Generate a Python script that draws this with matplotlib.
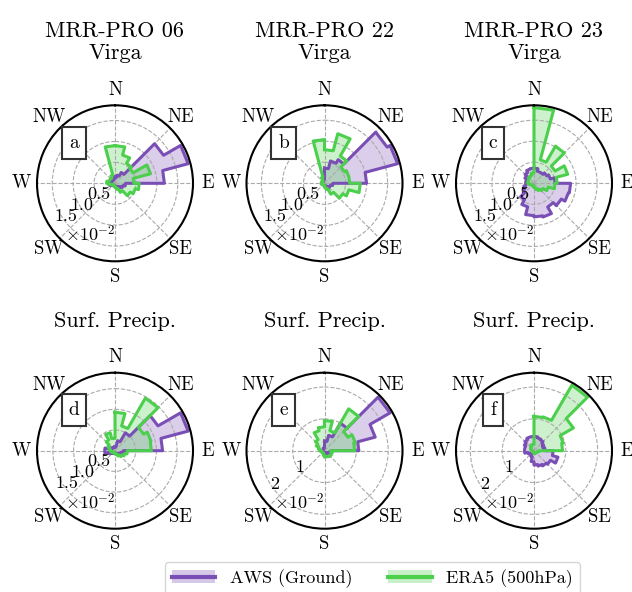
import numpy as np
import matplotlib
matplotlib.use("Agg")
import matplotlib.pyplot as plt
from matplotlib.patches import Patch
from matplotlib.lines import Line2D
from matplotlib.legend_handler import HandlerTuple

plt.rcParams['font.family'] = 'serif'
plt.rcParams['font.serif'] = ['cmr10', 'DejaVu Serif']
plt.rcParams['mathtext.fontset'] = 'cm'
plt.rcParams['axes.formatter.use_mathtext'] = True
plt.rcParams['axes.unicode_minus'] = False

# direction bins: 15 deg wide, starting at North, clockwise; values in units of 1e-2
bin_edges_deg = np.arange(0, 361, 15)

aws_a = [0.15, 0.20, 0.30, 1.34, 1.81, 1.18, 0.25, 0.20, 0.15, 0.10, 0.10, 0.08,
         0.06, 0.05, 0.05, 0.08, 0.12, 0.15, 0.15, 0.10, 0.08, 0.08, 0.10, 0.12]
era_a = [0.90, 0.70, 0.55, 0.50, 0.88, 0.45, 0.58, 0.50, 0.42, 0.25, 0.15, 0.10,
         0.08, 0.05, 0.05, 0.05, 0.08, 0.15, 0.20, 0.15, 0.15, 0.15, 0.20, 0.90]

aws_b = [0.36, 0.55, 0.65, 1.72, 1.80, 1.00, 0.20, 0.15, 0.15, 0.10, 0.08, 0.05,
         0.05, 0.05, 0.05, 0.05, 0.05, 0.05, 0.05, 0.05, 0.05, 0.05, 0.08, 0.10]
era_b = [0.80, 1.22, 0.75, 0.55, 0.60, 0.60, 0.85, 0.60, 0.50, 0.30, 0.15, 0.10,
         0.05, 0.05, 0.05, 0.05, 0.05, 0.08, 0.08, 0.05, 0.05, 0.08, 0.15, 1.04]

aws_c = [0.36, 0.30, 0.30, 0.35, 0.40, 0.50, 0.87, 0.85, 0.75, 0.65, 0.83, 0.80,
         0.77, 0.58, 0.45, 0.30, 0.25, 0.20, 0.20, 0.20, 0.25, 0.30, 0.35, 0.36]
era_c = [1.80, 0.58, 1.02, 0.58, 0.83, 0.55, 0.50, 0.35, 0.25, 0.20, 0.15, 0.10,
         0.08, 0.06, 0.05, 0.05, 0.08, 0.12, 0.15, 0.15, 0.15, 0.18, 0.20, 0.25]

aws_d = [0.10, 0.25, 0.50, 1.20, 1.83, 1.15, 0.20, 0.15, 0.12, 0.10, 0.08, 0.06,
         0.05, 0.05, 0.08, 0.10, 0.15, 0.25, 0.25, 0.15, 0.10, 0.08, 0.08, 0.08]
era_d = [0.93, 0.62, 1.47, 0.80, 0.90, 0.88, 0.30, 0.25, 0.20, 0.15, 0.10, 0.08,
         0.05, 0.05, 0.05, 0.05, 0.08, 0.10, 0.12, 0.15, 0.20, 0.30, 0.45, 0.30]

aws_e = [0.30, 0.50, 1.00, 2.38, 1.65, 1.08, 0.20, 0.15, 0.12, 0.10, 0.08, 0.06,
         0.05, 0.05, 0.05, 0.05, 0.05, 0.05, 0.05, 0.05, 0.05, 0.05, 0.08, 0.10]
era_e = [0.95, 0.65, 1.52, 0.85, 1.00, 0.95, 0.20, 0.25, 0.25, 0.22, 0.20, 0.20,
         0.15, 0.10, 0.08, 0.08, 0.10, 0.12, 0.15, 0.20, 0.30, 0.40, 0.65, 0.75]

aws_f = [0.45, 0.42, 0.40, 0.35, 0.30, 0.35, 0.60, 0.78, 0.60, 0.55, 0.50, 0.45,
         0.35, 0.20, 0.15, 0.15, 0.20, 0.30, 0.30, 0.30, 0.35, 0.40, 0.45, 0.45]
era_f = [1.08, 1.10, 2.38, 1.43, 0.95, 0.90, 0.15, 0.10, 0.10, 0.10, 0.10, 0.08,
         0.05, 0.05, 0.05, 0.05, 0.05, 0.05, 0.08, 0.10, 0.12, 0.15, 0.20, 0.20]

titles = ['MRR-PRO 06\nVirga', 'MRR-PRO 22\nVirga', 'MRR-PRO 23\nVirga',
          'Surf. Precip.', 'Surf. Precip.', 'Surf. Precip.']
panel_letters = ['a', 'b', 'c', 'd', 'e', 'f']
aws_all = [aws_a, aws_b, aws_c, aws_d, aws_e, aws_f]
era_all = [era_a, era_b, era_c, era_d, era_e, era_f]
rticks_all = [[0.5, 1.0, 1.5]] * 4 + [[1, 2]] * 2
rtick_labels_all = [['0.5', '1.0', '1.5']] * 4 + [['1', '2']] * 2
compass = ['N', 'NE', 'E', 'SE', 'S', 'SW', 'W', 'NW']

c_aws = '#7a4fb5'
c_era = '#4ccf4c'

W, H = 632, 592
fig = plt.figure(figsize=(W / 100, H / 100), dpi=100)

R = 78
centers_x = [115, 324.5, 534]
centers_y = [183.3, 450.7]


def step_outline(vals):
    edges = np.deg2rad(bin_edges_deg)
    th = np.repeat(edges, 2)[1:-1]
    r = np.repeat(np.asarray(vals, dtype=float), 2)
    th = np.append(th, th[0])
    r = np.append(r, r[0])
    return th, r


for k in range(6):
    cx = centers_x[k % 3]
    cy = centers_y[k // 3]
    ax = fig.add_axes([(cx - R) / W, (H - cy - R) / H, 2 * R / W, 2 * R / H],
                      projection='polar')
    ax.set_theta_zero_location('N')
    ax.set_theta_direction(-1)

    for vals, col in [(aws_all[k], c_aws), (era_all[k], c_era)]:
        th, r = step_outline(vals)
        ax.fill(th, r, color=col, alpha=0.28, lw=0)
        ax.plot(th, r, color=col, lw=2.2)

    rmax = 1.03 * max(max(aws_all[k]), max(era_all[k]))
    ax.set_ylim(0, rmax)
    ax.set_rticks(rticks_all[k])
    ax.set_yticklabels([])
    # radial labels drawn along the SW diagonal
    for t, lab in zip(rticks_all[k], rtick_labels_all[k]):
        ax.text(np.deg2rad(236), 0.94 * t, lab, fontsize=13, ha='center', va='center')
    ax.text(np.deg2rad(206), 0.73 * rmax, r'$\times10^{-2}$', fontsize=13,
            ha='center', va='center')

    ax.set_thetagrids(np.arange(0, 360, 45), labels=compass, fontsize=13.5)
    ax.tick_params(axis='x', pad=0.5)
    ax.grid(True, linestyle='--', color='#aaaaaa', lw=0.8)
    ax.spines['polar'].set_linewidth(1.5)
    ax.text(0.237, 0.76, panel_letters[k], transform=ax.transAxes, fontsize=14,
            ha='center', va='center',
            bbox=dict(boxstyle='square,pad=0.35', fc='white', ec='#333333', lw=1.5))
    ax.set_title(titles[k], fontsize=16, pad=33)

handles = [(Patch(facecolor=c_aws, alpha=0.3), Line2D([], [], color=c_aws, lw=3)),
           (Patch(facecolor=c_era, alpha=0.3), Line2D([], [], color=c_era, lw=3))]
fig.legend(handles, ['AWS (Ground)', 'ERA5 (500hPa)'], ncol=2, fontsize=13,
           loc='upper center', bbox_to_anchor=(0.589, 0.066), handlelength=2.4,
           handler_map={tuple: HandlerTuple(ndivide=1)})

fig.savefig('out.png', dpi=100)
